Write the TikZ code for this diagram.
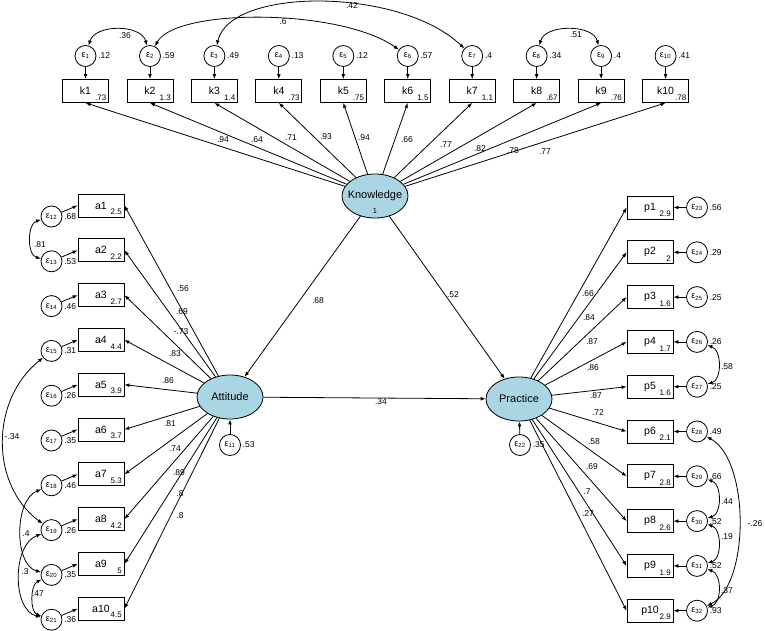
\documentclass[tikz,border=0pt]{standalone}
\usepackage{fontspec}
\setmainfont{Liberation Sans}
\usetikzlibrary{arrows.meta,shapes.geometric}
\definecolor{latfill}{RGB}{170,214,228}
\begin{document}
\begin{tikzpicture}[x=1pt,y=-1pt,line width=0.8pt,
  >={Latex[length=5pt,width=3.8pt]},
  lat/.style={ellipse,draw,fill=latfill,minimum width=66pt,minimum height=44pt,inner sep=0pt},
  lattext/.style={font=\fontsize{11}{12}\selectfont,inner sep=0pt},
  obs/.style={rectangle,draw,minimum width=46pt,minimum height=23pt,inner sep=0pt,font=\fontsize{10.5}{12}\selectfont},
  err/.style={circle,draw,minimum size=21pt,inner sep=0pt,font=\fontsize{9}{9}\selectfont},
  lbl/.style={font=\fontsize{8.5}{9}\selectfont,inner sep=1pt},
  evl/.style={font=\fontsize{8.5}{9}\selectfont,inner sep=1.5pt,anchor=west},
  icpt/.style={font=\fontsize{8}{8}\selectfont,inner sep=2.2pt,anchor=south east},
  ld/.style={->},
  cv/.style={<->}]
\useasboundingbox (0,0) rectangle (765,631);

% latent variables
\node[lat] (K) at (375,196) {};
\node[lattext] (Kt) at (375,196) {Knowledge};
\node[font=\fontsize{7.5}{8}\selectfont,inner sep=0pt] (K1) at (375,211) {1};
\node[lat] (A) at (230,397) {};
\node[lattext] (At) at (230,397) {Attitude};
\node[lat] (P) at (519,399) {};
\node[lattext] (Pt) at (519,399) {Practice};

\draw[ld] (K) -- (A);
\draw[ld] (K) -- (P);
\draw[ld] (A) -- (P);
\node[lbl] (lKA) at (318,301) {.68};
\node[lbl] (lKP) at (453,295) {.52};
\node[lbl] (lAP) at (381,402) {.34};

% knowledge indicators
\foreach \ic/\ev/\lv/\lx/\ly [count=\n] in {.73/.12/.94/223/140, 1.3/.59/.64/257/140, 1.4/.49/.71/291/138, .73/.13/.93/326/137, .75/.12/.94/364/138, 1.5/.57/.66/407/140, 1.1/.4/.77/446/145, .67/.34/.82/480/149, .76/.4/.78/513/151, .78/.41/.77/545/152}{
  \pgfmathsetmacro\xx{85.5+64.45*(\n-1)}
  \node[obs] (k\n) at (\xx,91) {k\n};
  \node[icpt] (kc\n) at (k\n.south east) {\ic};
  \node[err] (ek\n) at (\xx,56) {ε\textsubscript{\n}};
  \node[evl] (ekv\n) at (ek\n.east) {\ev};
  \draw[->] (ek\n) -- (k\n);
  \draw[ld] (K) -- (k\n.south);
  \node[lbl] (kl\n) at (\lx,\ly) {\lv};
}

% attitude indicators
\foreach \ic/\ev/\lv/\lx/\ly [count=\n] in {2.5/.68/.56/183/289, 2.2/.53/.69/182/312, 2.7/.46/-.73/181/332, 4.4/.31/.83/175/354, 3.9/.26/.86/168/381, 3.7/.35/.81/170/424, 5.3/.46/.74/175/449, 4.2/.26/.89/179/473, 5/.35/.8/180/494, 4.5/.36/.8/180/516}{
  \pgfmathsetmacro\yy{205.5+44.8*(\n-1)}
  \pgfmathtruncatemacro\en{11+\n}
  \node[obs] (a\n) at (101,\yy) {a\n};
  \node[icpt] (ac\n) at (a\n.south east) {\ic};
  \node[err] (ea\en) at (51.5,\yy+11) {ε\textsubscript{\en}};
  \node[evl] (eav\en) at (ea\en.east) {\ev};
  \draw[->] (ea\en) -- (a\n.west);
  \draw[ld] (A) -- (a\n.east);
  \node[lbl] (al\n) at (\lx,\ly) {\lv};
}

% practice indicators
\foreach \ic/\ev/\lv/\lx/\ly [count=\n] in {2.9/.56/.66/588/294, 2/.29/.84/589/318, 1.6/.25/.87/592/342, 1.7/.26/.86/593/368, 1.6/.25/.87/596/396, 2.1/.49/.72/598/413, 2.8/.66/.58/594/442, 2.6/.52/.69/592/467, 1.9/.52/.7/587/492, 2.9/.93/.27/588/514}{
  \pgfmathsetmacro\yy{207.5+44.8*(\n-1)}
  \pgfmathtruncatemacro\en{22+\n}
  \node[obs] (p\n) at (650,\yy) {p\n};
  \node[icpt] (pc\n) at (p\n.south east) {\ic};
  \node[err] (ep\en) at (697,\yy) {ε\textsubscript{\en}};
  \node[evl] (epv\en) at (ep\en.east) {\ev};
  \draw[->] (ep\en) -- (p\n.east);
  \draw[ld] (P) -- (p\n.west);
  \node[lbl] (pl\n) at (\lx,\ly) {\lv};
}

% structural disturbances
\node[err] (e11) at (230,445) {ε\textsubscript{11}};
\node[evl] (e11v) at (e11.east) {.53};
\draw[->] (e11) -- (A);
\node[err] (e22) at (520,445) {ε\textsubscript{22}};
\node[evl] (e22v) at (e22.east) {.35};
\draw[->] (e22) -- (P);

% covariances, top
\draw[cv] (ek1) .. controls (95,24) and (141,24) .. (ek2);
\node[lbl] (c12) at (125,36) {.36};
\draw[cv] (ek2) .. controls (175,8) and (340,8) .. (ek6);
\node[lbl] (c26) at (283,22) {.6};
\draw[cv] (ek3) .. controls (230,-13) and (400,-13) .. (ek7);
\node[lbl] (c37) at (352,6) {.42};
\draw[cv] (ek8) .. controls (545,24) and (593,24) .. (ek9);
\node[lbl] (c89) at (576,35) {.51};

% covariances, left
\draw[cv] (ea12) .. controls (27,224) and (27,255) .. (ea13);
\node[lbl] (c1213) at (40,245) {.81};
\draw[cv] (ea15) .. controls (-10,400) and (-10,485) .. (ea19);
\node[lbl] (c1519) at (12,437) {-.34};
\draw[cv] (ea18) .. controls (14,500) and (14,565) .. (ea20);
\node[lbl] (c1820) at (26,534) {.4};
\draw[cv] (ea19) .. controls (12,545) and (12,610) .. (ea21);
\node[lbl] (c1921) at (25,572) {.3};
\draw[cv] (ea20) .. controls (30,585) and (30,612) .. (ea21);
\node[lbl] (c2021) at (38,594) {.47};

% covariances, right
\draw[cv] (ep26) .. controls (722,350) and (722,380) .. (ep27);
\node[lbl] (c2627) at (727,367) {.58};
\draw[cv] (ep29) .. controls (722,484) and (722,514) .. (ep30);
\node[lbl] (c2930) at (727,502) {.44};
\draw[cv] (ep30) .. controls (722,529) and (722,559) .. (ep31);
\node[lbl] (c3031) at (727,537) {.19};
\draw[cv] (ep31) .. controls (722,574) and (722,603) .. (ep32);
\node[lbl] (c3132) at (727,591) {.37};
\draw[cv] (ep28) .. controls (750,460) and (750,585) .. (ep32);
\node[lbl] (c2832) at (755,524) {-.26};
\end{tikzpicture}
\end{document}
